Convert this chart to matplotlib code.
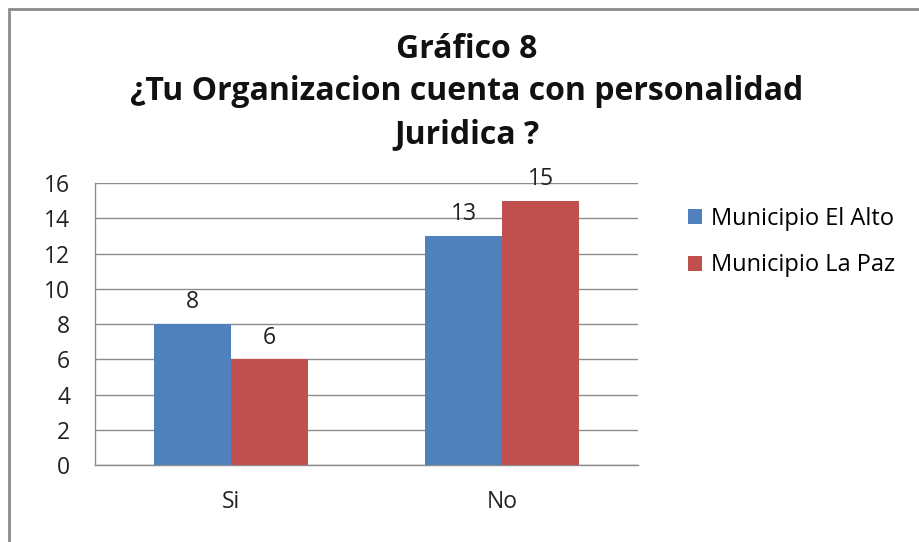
import numpy as np
import matplotlib.pyplot as plt
from matplotlib.patches import Rectangle

categorias = ["Si", "No"]
el_alto = [8, 13]
la_paz = [6, 15]
series = ["Municipio El Alto", "Municipio La Paz"]

plt.rcParams["font.family"] = ["Open Sans", "DejaVu Sans"]

fig = plt.figure(figsize=(9.19, 5.42), dpi=100)

# marco exterior del grafico (cortado a la derecha y abajo)
fig.patches.append(Rectangle((9 / 919, -0.05), 1.1, 1 - 9 / 542 + 0.05,
                             transform=fig.transFigure, fill=False,
                             edgecolor="#8c8c8c", linewidth=2))

ax = fig.add_axes([95 / 919, 1 - 465 / 542, 543 / 919, (465 - 183) / 542])

x = np.arange(len(categorias))
ancho = 0.283
b1 = ax.bar(x - ancho / 2, el_alto, ancho, color="#4F81BD", label=series[0], zorder=3)
b2 = ax.bar(x + ancho / 2, la_paz, ancho, color="#C0504D", label=series[1], zorder=3)

for barras in (b1, b2):
    for b in barras:
        ax.text(b.get_x() + b.get_width() / 2, b.get_height() + 0.55,
                f"{int(b.get_height())}", ha="center", va="bottom",
                fontsize=16.5, color="#222222")

ax.set_xlim(-0.5, 1.5)
ax.set_ylim(0, 16)
ax.set_yticks(range(0, 17, 2))
ax.set_xticks(x)
ax.set_xticklabels(categorias)
ax.tick_params(axis="both", labelsize=16.5, colors="#222222", length=0)
ax.tick_params(axis="y", pad=18)
ax.tick_params(axis="x", pad=18)
ax.grid(axis="y", color="#8c8c8c", linewidth=1, zorder=0)
for lado in ["top", "right"]:
    ax.spines[lado].set_visible(False)
for lado in ["left", "bottom"]:
    ax.spines[lado].set_color("#8c8c8c")
    ax.spines[lado].set_linewidth(1)

fig.text(467 / 919, 1 - 92 / 542,
         "Gráfico 8\n¿Tu Organizacion cuenta con personalidad\nJuridica ?",
         ha="center", va="center", fontsize=23, fontweight="bold",
         linespacing=1.39, color="#111111")

leg = ax.legend(loc="center left", bbox_to_anchor=(1.075, 0.79), frameon=False,
                fontsize=17, handlelength=0.6, handleheight=0.6,
                handletextpad=0.35, labelspacing=0.95, borderaxespad=0)

fig.savefig("out.png", dpi=100)
